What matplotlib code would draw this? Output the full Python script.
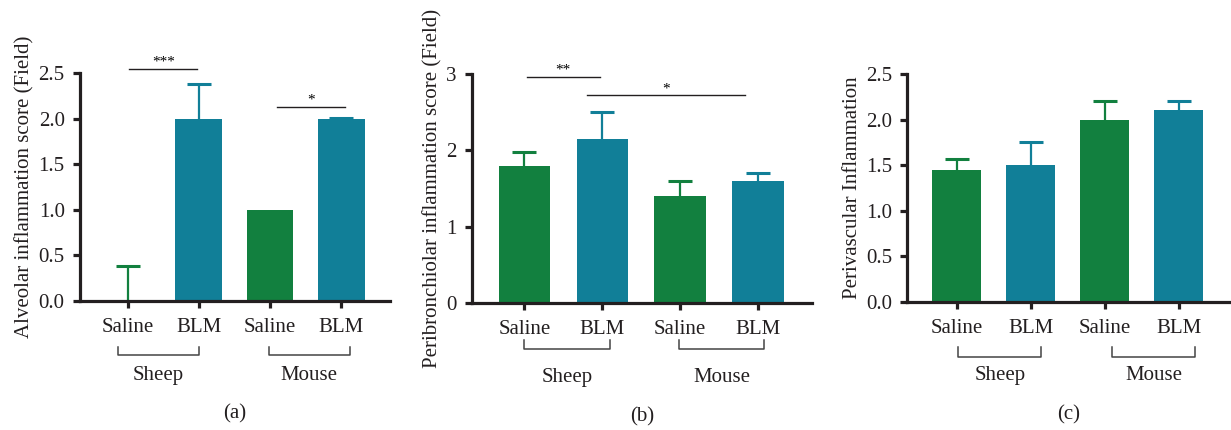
import matplotlib
matplotlib.use('Agg')
import matplotlib.pyplot as plt
import numpy as np

plt.rcParams['font.family'] = ['Liberation Serif', 'DejaVu Serif']

#*-*-*-*-*-*-*-*-*-*-*-*-*-*-*- DATA *-*-*-*-*-*-*-*-*-*-*-*-*-*-*-*-*-*-*-*-*-
groups = ['Saline', 'BLM', 'Saline', 'BLM']
species = ['Sheep', 'Mouse']

alveolar_mean = [0.0, 2.0, 1.0, 2.0]
alveolar_err = [0.38, 0.38, 0.0, 0.01]

peribronch_mean = [1.8, 2.15, 1.4, 1.6]
peribronch_err = [0.18, 0.35, 0.2, 0.1]

perivasc_mean = [1.45, 1.5, 2.0, 2.1]
perivasc_err = [0.12, 0.25, 0.2, 0.1]

green = '#12803f'
teal = '#117f98'
bar_colors = [green, teal, green, teal]
ink = '#231f20'
fs = 15

#*-*-*-*-*-*-*-*-*-*-*-*-*-*-*- PLOT -*-*-*-*-*-*-*-*-*-*-*-*-*-*-*-*-*-*-*-*-*-
fig = plt.figure(figsize=(12.31, 4.30), dpi=100)

def bar_panel(rect, means, errs, ylim, yticks, yfmt, ylabel, letter, brackets, br_y):
    ax = fig.add_axes(rect)
    x = np.arange(len(means))
    ax.bar(x, means, width=0.66, color=bar_colors, zorder=2)
    for xi, m, e, c in zip(x, means, errs, bar_colors):
        if e <= 0:
            continue
        eb = ax.errorbar(xi, m, yerr=[[0], [e]], color=c, capsize=8.5, elinewidth=1.6,
                         capthick=2.2, zorder=1)
        eb[1][0].set_visible(False)  # only the upper cap
    ax.set_xlim(-0.67, 3.69)
    ax.set_ylim(*ylim)
    ax.set_yticks(yticks)
    ax.set_yticklabels([yfmt.format(t) for t in yticks])
    ax.set_xticks(x)
    ax.set_xticklabels(groups)
    for s in ['top', 'right']:
        ax.spines[s].set_visible(False)
    for s in ['left', 'bottom']:
        ax.spines[s].set_linewidth(2.3)
        ax.spines[s].set_color(ink)
    ax.tick_params(axis='both', width=2.3, length=5, labelsize=fs, color=ink,
                   labelcolor=ink)
    ax.tick_params(axis='x', pad=7)
    ax.tick_params(axis='y', pad=6)
    ax.set_ylabel(ylabel, fontsize=fs, color=ink, labelpad=3)

    # species brackets below the axis
    trans = ax.get_xaxis_transform()
    y0, y1 = br_y
    for (x0, x1), name in zip(brackets, species):
        ax.plot([x0, x0, x1, x1], [y0, y1, y1, y0], color='#444444',
                lw=1.1, transform=trans, clip_on=False)
        ax.text((x0 + x1) / 2, -0.325, name, transform=trans, ha='center', va='center',
                fontsize=fs, color=ink)
    ax.text(0.5, -0.495, letter, transform=ax.transAxes, ha='center', va='center',
            fontsize=fs, color=ink)
    return ax

def sig(ax, x0, x1, y, label):
    ax.plot([x0, x1], [y, y], color=ink, lw=1.0, clip_on=False)
    ax.text((x0 + x1) / 2, y, label, ha='center', va='bottom', fontsize=11, clip_on=False)

ax1 = bar_panel([0.065, 0.30, 0.252, 0.53], alveolar_mean, alveolar_err, (0, 2.5),
                [0, 0.5, 1.0, 1.5, 2.0, 2.5], '{:.1f}',
                'Alveolar inflammation score (Field)', '(a)',
                [(-0.14, 1.0), (1.98, 3.12)], (-0.20, -0.237))
sig(ax1, 0.02, 0.98, 2.55, '***')
sig(ax1, 2.1, 3.06, 2.13, '*')

ax2 = bar_panel([0.3835, 0.295, 0.276, 0.533], peribronch_mean, peribronch_err, (0, 3),
                [0, 1, 2, 3], '{:.0f}',
                'Peribronchiolar inflammation score (Field)', '(b)',
                [(0.0, 1.1), (1.98, 3.08)], (-0.16, -0.20))
sig(ax2, 0.03, 0.97, 2.96, '**')
sig(ax2, 0.8, 2.83, 2.72, '*')

ax3 = bar_panel([0.737, 0.298, 0.262, 0.53], perivasc_mean, perivasc_err, (0, 2.5),
                [0, 0.5, 1.0, 1.5, 2.0, 2.5], '{:.1f}',
                'Perivascular Inflammation', '(c)',
                [(0.02, 1.14), (2.1, 3.22)], (-0.20, -0.24))

plt.savefig('out.png', dpi=100)
